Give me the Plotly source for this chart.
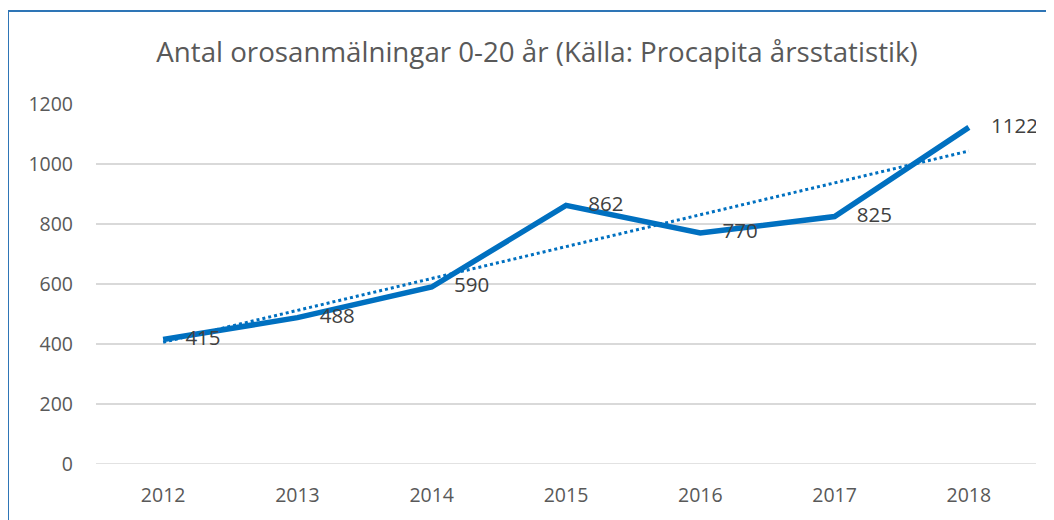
import numpy as np
import plotly.graph_objects as go

years = ["2012", "2013", "2014", "2015", "2016", "2017", "2018"]
values = [415, 488, 590, 862, 770, 825, 1122]
y_ticks = [0, 200, 400, 600, 800, 1000, 1200]
title = "Antal orosanmälningar 0-20 år (Källa: Procapita årsstatistik)"

idx = np.arange(len(values))
slope, intercept = np.polyfit(idx, values, 1)
trend = slope * idx + intercept

# page body has an 8px margin, so the figure is drawn at (8, 8)
W, H = 1046, 512
L, R, T, B = 88, 18, 96, 56
pw, ph = W - L - R, H - T - B

def px_x(p):
    return (p - L) / pw

def px_y(p):
    return (H - B - p) / ph

fig = go.Figure()
fig.add_trace(go.Scatter(
    x=years, y=trend, mode="lines",
    line=dict(color="#0070C0", width=3, dash="dot"),
    hoverinfo="skip", showlegend=False,
))
fig.add_trace(go.Scatter(
    x=years, y=values, mode="lines",
    line=dict(color="#0070C0", width=5.5),
    showlegend=False,
))
# data labels; invisible markers push the text to the right of each point
fig.add_trace(go.Scatter(
    x=years, y=values, mode="markers+text",
    marker=dict(size=34, color="rgba(0,0,0,0)"),
    text=[str(v) for v in values], textposition="middle right",
    textfont=dict(family="Open Sans", size=20.5, color="#404040"),
    hoverinfo="skip", showlegend=False,
))

fig.add_shape(type="rect", xref="paper", yref="paper",
              x0=px_x(0), x1=px_x(1070), y0=px_y(540), y1=px_y(3),
              line=dict(color="#2E75B6", width=2), layer="below")

fig.update_layout(
    width=W, height=H,
    margin=dict(l=L, r=R, t=T, b=B),
    paper_bgcolor="white", plot_bgcolor="white",
    title=dict(text=title, x=px_x(529), xanchor="center", xref="paper",
               y=1 - 44 / H, yanchor="middle",
               font=dict(family="Open Sans", size=27.7, color="#595959")),
    font=dict(family="Open Sans", color="#595959"),
)
fig.update_xaxes(
    type="category", range=[-0.5, len(years) - 0.5],
    showgrid=False, showline=False, zeroline=False, ticks="",
    tickfont=dict(size=19.5, color="#595959"), ticklabelstandoff=17,
)
fig.update_yaxes(
    range=[0, 1200], tickvals=y_ticks, ticktext=[str(t) for t in y_ticks],
    showgrid=True, gridcolor="#D9D9D9", gridwidth=1.5,
    zeroline=False, showline=False, ticks="",
    tickfont=dict(size=19.5, color="#595959"), ticklabelstandoff=22,
)
fig.add_hline(y=0, line=dict(color="#D9D9D9", width=1.5), layer="below")

fig.write_html("out.html")
